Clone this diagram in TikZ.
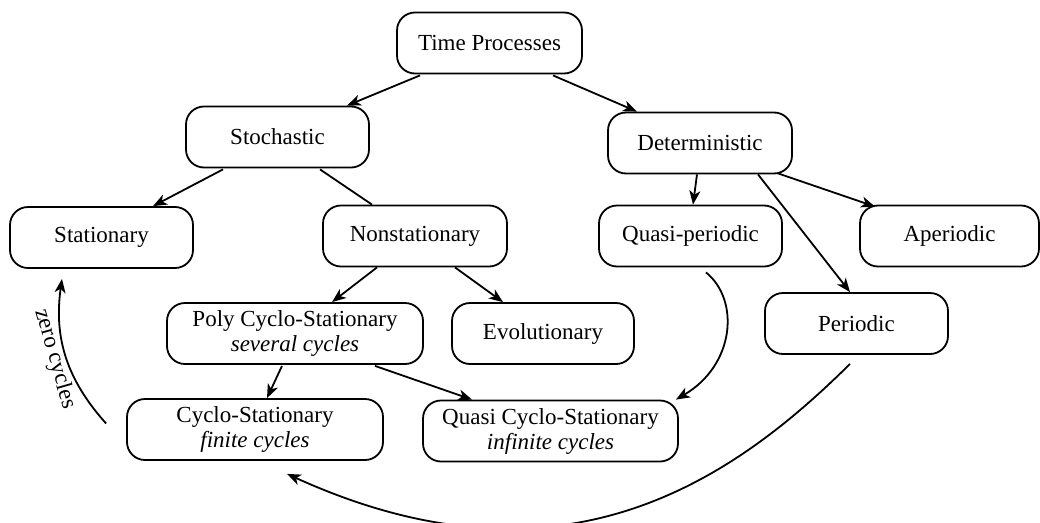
\documentclass[tikz,border=0pt]{standalone}
\usepackage{fontspec}
\setmainfont{Liberation Serif}
\usetikzlibrary{arrows.meta,calc}
\begin{document}
\begin{tikzpicture}[x=1pt,y=-1pt,
  box/.style={draw,line width=1.8pt,rounded corners=18pt,minimum height=61pt,
    inner sep=0pt,align=center,font=\fontsize{23}{25}\selectfont},
  conn/.style={line width=1.8pt},
  arr/.style={conn,-{Stealth[length=14pt,width=11pt,inset=4pt]}},
  lbl/.style={font=\fontsize{23}{25}\selectfont,inner sep=0pt}]
\clip (0,0) rectangle (1040,522);
\fill[white] (0,0) rectangle (1040,522);
% nodes
\node[box,minimum width=185pt] (tp) at (489.5,43) {Time Processes};
\node[box,minimum width=183pt] (sto) at (277.5,137) {Stochastic};
\node[box,minimum width=184pt] (det) at (700,143) {Deterministic};
\node[box,minimum width=183pt] (stat) at (101.5,237.5) {Stationary};
\node[box,minimum width=184pt] (non) at (415,236) {Nonstationary};
\node[box,minimum width=183pt] (qp) at (690.5,236) {Quasi-periodic};
\node[box,minimum width=179pt] (ap) at (949.5,236) {Aperiodic};
\node[box,minimum width=256pt] (poly) at (295,333.5) {Poly Cyclo-Stationary\\\textit{several cycles}};
\node[box,minimum width=182pt] (evo) at (543,333.5) {Evolutionary};
\node[box,minimum width=183pt] (per) at (856.5,323.5) {Periodic};
\node[box,minimum width=256pt] (cyc) at (255,429.5) {Cyclo-Stationary\\\textit{finite cycles}};
\node[box,minimum width=255pt] (qcyc) at (550.5,431) {Quasi Cyclo-Stationary\\\textit{infinite cycles}};
% straight connectors
\draw[arr] ($(tp.south)+(-69.5,1)$) -- ($(sto.north)+(69.5,0)$);
\draw[arr] ($(tp.south)+(63.5,1)$) -- ($(det.north)+(-63,0)$);
\draw[arr] ($(sto.south)+(-54.5,1)$) -- ($(stat.north)+(51.5,0)$);
\draw[conn] ($(sto.south)+(42.5,1)$) -- ($(non.north)+(-43,0)$);
\draw[arr] ($(det.south)+(-3,0)$) -- ($(qp.north)+(2.5,0)$);
\draw[arr] ($(det.south)+(78,-1)$) -- ($(ap.north)+(-74.5,2)$);
\draw[arr] ($(det.south)+(58,0)$) -- ($(per.north)+(-6.5,0)$);
\draw[arr] ($(non.south)+(-38,0)$) -- ($(poly.north)+(37,0)$);
\draw[arr] ($(non.south)+(40,0)$) -- ($(evo.north)+(-40,0)$);
\draw[arr] ($(poly.south)+(-13,1)$) -- ($(cyc.north)+(12,0)$);
\draw[arr] ($(poly.south)+(80,1)$) -- ($(qcyc.north)+(-78.5,0)$);
% curved connectors
\coordinate (qps) at ($(qp.south)+(15.5,5)$);
\coordinate (qce) at ($(qcyc.north east)+(-3,0)$);
\draw[arr] (qps) .. controls (740,300) and (735,365) .. (qce);
\coordinate (pers) at ($(per.south)+(-6.5,9)$);
\coordinate (cyce) at ($(cyc.south)+(32,13)$);
\draw[arr] (pers) .. controls (730,483) and (560,598) .. (cyce);
\coordinate (zs) at ($(cyc.west)+(-20,-6)$);
\coordinate (ze) at ($(stat.south)+(-39.5,10)$);
\draw[arr] (zs) to[bend left=25] (ze);
\node[lbl,rotate=-74] (zl) at (55,359) {zero cycles};
\end{tikzpicture}
\end{document}
